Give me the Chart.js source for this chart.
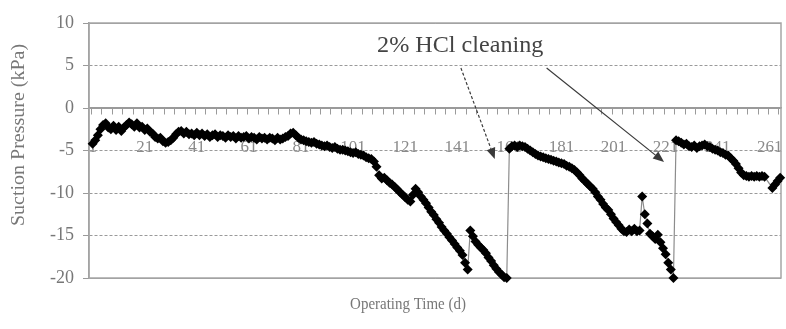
<!DOCTYPE html>
<html>
<head>
<meta charset="utf-8">
<title>Suction pressure vs operating time</title>
<script src="https://cdn.jsdelivr.net/npm/chart.js@4.4.1/dist/chart.umd.min.js"></script>
<style>
  html, body { margin: 0; padding: 0; background: #fff; }
</style>
</head>
<body>
<canvas id="chart" width="786" height="329"></canvas>
<script>
/* -----------------------
   Data
   ----------------------- */
const days = [
  1,2,3,4,5,6,7,8,9,10, 11,12,13,14,15,16,17,18,19,20,
  21,22,23,24,25,26,27,28,29,30, 31,32,33,34,35,36,37,38,39,40,
  41,42,43,44,45,46,47,48,49,50, 51,52,53,54,55,56,57,58,59,60,
  61,62,63,64,65,66,67,68,69,70, 71,72,73,74,75,76,77,78,79,80,
  81,82,83,84,85,86,87,88,89,90, 91,92,93,94,95,96,97,98,99,100,
  101,102,103,104,105,106,107,108,109,110, 111,112,113,114,115,116,117,118,119,120,
  121,122,123,124,125,126,127,128,129,130, 131,132,133,134,135,136,137,138,139,140,
  141,142,143,144,145,146,147,148,149,150, 151,152,153,154,155,156,157,158,159,160,
  161,162,163,164,165,166,167,168,169,170, 171,172,173,174,175,176,177,178,179,180,
  181,182,183,184,185,186,187,188,189,190, 191,192,193,194,195,196,197,198,199,200,
  201,202,203,204,205,206,207,208,209,210, 211,212,213,214,215,216,217,218,219,220,
  221,222,223,224,225,226,227,228,229,230, 231,232,233,234,235,236,237,238,239,240,
  241,242,243,244,245,246,247,248,249,250, 251,252,253,254,255,256,257,258,259,
  262,263,264,265
];

const suction = [
  -4.2,-3.8,-3.2,-2.5,-2.0,-1.8,-2.3,-2.5,-2.1,-2.6, -2.2,-2.7,-2.3,-2.0,-1.7,-1.9,-2.2,-1.8,-2.3,-2.2,
  -2.6,-2.4,-2.8,-3.0,-3.4,-3.6,-3.5,-3.9,-4.1,-4.0, -3.8,-3.5,-3.1,-2.8,-2.7,-3.0,-2.8,-3.1,-3.0,-3.2,
  -2.9,-3.2,-3.0,-3.3,-3.1,-3.4,-3.2,-3.1,-3.4,-3.2, -3.3,-3.5,-3.2,-3.4,-3.3,-3.6,-3.3,-3.5,-3.4,-3.3,
  -3.6,-3.4,-3.5,-3.7,-3.4,-3.6,-3.5,-3.7,-3.5,-3.6, -3.8,-3.5,-3.7,-3.6,-3.4,-3.3,-3.0,-2.9,-3.2,-3.5,
  -3.7,-3.8,-3.9,-4.0,-4.1,-4.0,-4.2,-4.3,-4.4,-4.5, -4.4,-4.6,-4.7,-4.6,-4.8,-4.9,-4.9,-5.0,-5.1,-5.2,
  -5.3,-5.2,-5.4,-5.5,-5.6,-5.8,-5.9,-6.0,-6.3,-6.9, -7.9,-8.3,-8.2,-8.5,-8.8,-9.0,-9.3,-9.6,-9.9,-10.2,
  -10.5,-10.8,-11.0,-10.2,-9.5,-9.9,-10.4,-10.8,-11.2,-11.7, -12.2,-12.6,-13.1,-13.5,-14.0,-14.4,-14.8,-15.2,-15.6,-16.0,
  -16.4,-16.8,-17.3,-18.2,-19.0,-14.4,-15.1,-15.7,-16.1,-16.4, -16.7,-17.1,-17.6,-18.0,-18.5,-18.9,-19.3,-19.6,-19.9,-20.0,
  -4.8,-4.5,-4.4,-4.6,-4.4,-4.5,-4.6,-4.8,-5.0,-5.2, -5.4,-5.6,-5.7,-5.8,-5.9,-6.0,-6.1,-6.2,-6.3,-6.4,
  -6.5,-6.6,-6.8,-6.9,-7.1,-7.3,-7.6,-7.9,-8.3,-8.6, -8.9,-9.2,-9.5,-9.9,-10.4,-10.8,-11.3,-11.7,-12.0,-12.5,
  -13.0,-13.4,-13.8,-14.2,-14.5,-14.6,-14.3,-14.5,-14.2,-14.5, -14.4,-10.4,-12.5,-13.6,-14.8,-15.1,-15.4,-14.9,-15.8,-16.5,
  -17.2,-18.2,-19.0,-20.0,-3.8,-3.9,-4.1,-4.3,-4.2,-4.5, -4.6,-4.4,-4.7,-4.5,-4.4,-4.3,-4.5,-4.6,-4.8,-4.9,
  -5.0,-5.2,-5.3,-5.5,-5.6,-5.9,-6.2,-6.6,-7.1,-7.6, -7.9,-8.0,-8.1,-8.0,-8.1,-8.0,-8.1,-8.0,-8.1,
  -9.4,-9.0,-8.6,-8.2
];

const xLabels = ['1','21','41','61','81','101','121','141','161','181','201','221','241','261'];
const yTicks = [10, 5, 0, -5, -10, -15, -20];

const X_TITLE = 'Operating Time (d)';
const Y_TITLE = 'Suction Pressure (kPa)';

// annotation, in data units (day, kPa)
const noteText = '2% HCl cleaning';
const noteAt = [110.2, 6.6];
const arrowFrom = [[142.4, 4.7], [175.3, 4.7]];
const arrowTo = [[155.4, -6.0], [220.4, -6.35]];

const SERIF = '"Liberation Serif", "Times New Roman", serif';

/* -----------------------
   arrow helper
   ----------------------- */
function drawArrow(ctx, x1, y1, x2, y2, dash){
  const ang = Math.atan2(y2 - y1, x2 - x1);
  const head = 11, half = 4.5;
  const bx = x2 - head * Math.cos(ang), by = y2 - head * Math.sin(ang);
  ctx.setLineDash(dash);
  ctx.beginPath(); ctx.moveTo(x1, y1); ctx.lineTo(bx, by); ctx.stroke();
  ctx.setLineDash([]);
  ctx.beginPath();
  ctx.moveTo(x2, y2);
  ctx.lineTo(bx + half * Math.sin(ang), by - half * Math.cos(ang));
  ctx.lineTo(bx - half * Math.sin(ang), by + half * Math.cos(ang));
  ctx.closePath(); ctx.fill();
}

/* frame, titles and the cleaning note */
const extras = {
  id: 'extras',
  beforeDatasetsDraw(chart){
    const {ctx, chartArea: a} = chart;
    ctx.save();
    ctx.strokeStyle = '#a6a6a6'; ctx.lineWidth = 1.5;
    ctx.strokeRect(a.left, a.top, a.right - a.left, a.bottom - a.top);
    ctx.restore();
  },
  afterDraw(chart){
    const {ctx, chartArea: a, scales: {x, y}} = chart;
    ctx.save();
    ctx.fillStyle = '#777';
    ctx.textAlign = 'center'; ctx.textBaseline = 'middle';
    // x title, slightly condensed like the source
    ctx.save();
    ctx.font = '17px ' + SERIF;
    ctx.translate(408, a.bottom + 27);
    ctx.scale(0.88, 1);
    ctx.fillText(X_TITLE, 0, 0);
    ctx.restore();
    // y title
    ctx.font = '20px ' + SERIF;
    ctx.translate(19, 135); ctx.rotate(-Math.PI / 2);
    ctx.scale(1, 0.9);
    ctx.fillText(Y_TITLE, 0, 0);
    ctx.restore();

    ctx.save();
    ctx.fillStyle = '#444';
    ctx.font = '23px ' + SERIF;
    ctx.textAlign = 'left'; ctx.textBaseline = 'alphabetic';
    ctx.translate(x.getPixelForValue(noteAt[0]), y.getPixelForValue(noteAt[1]));
    ctx.scale(1.05, 1);
    ctx.fillText(noteText, 0, 0);
    ctx.restore();

    ctx.save();
    ctx.strokeStyle = '#3a3a3a'; ctx.fillStyle = '#3a3a3a'; ctx.lineWidth = 1.2;
    arrowFrom.forEach((f, i) => {
      const t = arrowTo[i];
      drawArrow(ctx, x.getPixelForValue(f[0]), y.getPixelForValue(f[1]),
                x.getPixelForValue(t[0]), y.getPixelForValue(t[1]), i === 0 ? [3, 2] : []);
    });
    ctx.restore();
  }
};

const ctx = document.getElementById('chart').getContext('2d');
new Chart(ctx, {
  type: 'scatter',
  data: {
    datasets: [{
      data: days.map((d, i) => ({x: d, y: suction[i]})),
      showLine: true,
      borderColor: '#8c8c8c',
      borderWidth: 1.2,
      pointStyle: 'rectRot',
      pointRadius: 5,
      pointBackgroundColor: '#000',
      pointBorderColor: '#000',
      pointBorderWidth: 0,
      clip: false
    }]
  },
  options: {
    responsive: false,
    animation: false,
    layout: { padding: { left: 0, top: 23, right: 3, bottom: 51 } },
    plugins: { legend: { display: false }, tooltip: { enabled: false } },
    scales: {
      x: {
        type: 'linear',
        min: -0.4, max: 265.3,
        position: { y: 0 },
        afterBuildTicks: s => {
          const t = [];
          for (let v = 0.5; v < 265.3; v += 4) t.push({value: v});
          s.ticks = t;
        },
        afterFit: s => { s.height = 0; s.paddingLeft = 0; s.paddingRight = 0; },
        ticks: {
          autoSkip: false, maxRotation: 0, minRotation: 0,
          color: '#8a8a8a', font: { family: SERIF, size: 17 },
          padding: 23, labelOffset: 1.3,
          callback: v => {
            const k = (v - 0.5) / 20;
            return Number.isInteger(k) && k < xLabels.length ? xLabels[k] : '';
          }
        },
        grid: { drawOnChartArea: false, tickLength: 6, color: '#9a9a9a', lineWidth: 1 },
        border: { display: true, color: '#9a9a9a', width: 1.5 }
      },
      y: {
        min: -20, max: 10,
        afterBuildTicks: s => { s.ticks = yTicks.map(v => ({value: v})); },
        afterFit: s => { s.width = 89; },
        ticks: { color: '#777', font: { family: SERIF, size: 18 }, padding: 9 },
        grid: { color: '#9a9a9a', lineWidth: 1, tickLength: 6, tickColor: '#9a9a9a' },
        border: {
          display: true, color: '#9a9a9a', width: 1.5,
          dash: c => (c.tick && [10, 0, -20].includes(c.tick.value)) ? [] : [3, 2]
        }
      }
    }
  },
  plugins: [extras]
});
</script>
</body>
</html>
